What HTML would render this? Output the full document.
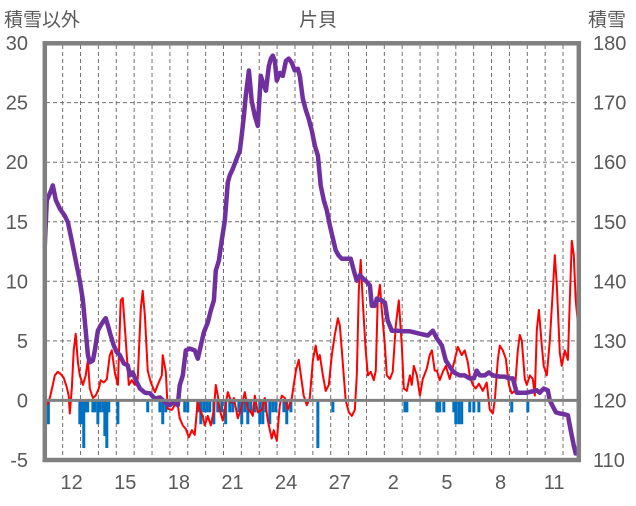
<!DOCTYPE html>
<html><head><meta charset="utf-8"><style>
body{margin:0;background:#fff;}
svg text{font-family:"Liberation Sans","Noto Sans CJK JP",sans-serif;fill:#595959;}
</style></head><body>
<svg id="chart" width="636" height="501" xmlns="http://www.w3.org/2000/svg">
<g id="grid"></g>
<g id="bars"></g>
<path id="red" fill="none" stroke="#ff0000" stroke-width="2" stroke-linejoin="round"/>
<path id="purple" fill="none" stroke="#7030a0" stroke-width="4.5" stroke-linejoin="round"/>
<line x1="45" x2="579" y1="400.4" y2="400.4" stroke="#808080" stroke-width="3"/>
<rect x="44.8" y="43.3" width="534" height="416.7" fill="none" stroke="#808080" stroke-width="4.5"/>
<g id="labels"></g>
<text x="4" y="26" font-size="19">積雪以外</text>
<text x="318" y="26" font-size="19" text-anchor="middle">片貝</text>
<text x="588" y="26" font-size="19">積雪</text>
</svg>
<script>
const leftTicks=[-5,0,5,10,15,20,25,30];
const rightTicks=[110,120,130,140,150,160,170,180];
const dayLabels=["12","15","18","21","24","27","2","5","8","11"];
const dayLabelPos=[1,4,7,10,13,16,19,22,25,28];
const snowT=[0,0.11,0.34,0.45,0.62,0.84,1.12,1.29,1.51,1.73,1.96,2.13,2.29,2.41,2.52,2.69,2.80,2.97,3.13,3.30,3.41,3.53,3.69,3.86,4.03,4.20,4.42,4.64,4.76,4.92,5.09,5.32,5.60,5.88,6.16,6.44,6.72,6.99,7.27,7.44,7.55,7.72,7.89,8.11,8.39,8.56,8.73,8.90,9.12,9.29,9.46,9.57,9.74,9.90,10.07,10.24,10.35,10.52,10.74,10.91,11.02,11.14,11.25,11.42,11.58,11.75,11.92,12.09,12.26,12.37,12.54,12.65,12.76,12.87,12.98,13.15,13.32,13.49,13.65,13.82,13.99,14.16,14.27,14.44,14.61,14.77,14.94,15.11,15.28,15.44,15.61,15.78,15.95,16.12,16.28,16.45,16.62,16.84,17.12,17.29,17.46,17.63,17.80,17.96,18.19,18.30,18.47,18.58,18.86,19.03,19.19,19.42,19.75,20.03,20.43,20.98,21.43,21.71,21.94,22.22,22.44,22.72,22.89,23.22,23.50,23.78,24.01,24.17,24.34,24.62,24.85,25.07,25.46,25.74,25.97,26.19,26.41,26.69,26.97,27.25,27.53,27.70,27.92,28.15,28.26,28.43,28.60,28.82,29.04,29.27,29.43,29.60,29.71,29.88];
const snowV=[146.0,153.6,155.2,156.1,153.6,152.2,151.0,149.9,146.8,143.5,140.1,136.8,131.7,127.6,126.4,126.7,128.4,131.7,132.6,133.4,133.8,132.6,130.9,129.2,128.1,127.6,126.2,125.9,124.2,124.7,123.4,122.0,121.3,121.2,120.3,120.5,119.7,119.2,119.8,119.2,122.5,124.2,128.4,128.7,128.4,127.0,129.2,131.4,133.1,135.1,136.8,141.8,143.5,146.8,150.2,156.6,157.8,158.9,160.6,161.9,164.5,167.8,171.2,175.4,170.3,167.8,166.1,174.5,172.9,172.0,176.2,177.4,177.9,177.0,173.7,175.0,174.5,177.0,177.4,176.7,175.4,175.7,174.5,170.7,168.7,167.3,165.3,162.8,161.1,156.1,153.6,151.9,149.4,147.2,145.2,144.3,143.8,143.8,143.8,141.8,140.1,141.0,140.5,140.1,139.3,135.9,135.9,137.1,136.8,136.4,133.4,131.7,131.7,131.6,131.6,131.2,130.9,131.7,130.4,129.2,126.7,125.4,124.7,124.2,124.2,123.7,123.7,125.0,124.2,124.2,124.7,124.2,124.0,124.0,123.7,123.7,121.3,121.3,121.3,121.5,121.7,121.3,122.0,121.7,120.0,119.0,118.0,117.8,117.7,117.5,115.0,112.4,111.1,111.1];
const redT=[0,0.17,0.28,0.45,0.56,0.73,0.90,1.06,1.23,1.34,1.40,1.51,1.62,1.73,1.85,1.96,2.13,2.29,2.41,2.52,2.69,2.85,3.02,3.13,3.30,3.47,3.64,3.75,3.92,4.09,4.25,4.36,4.53,4.70,4.87,5.04,5.20,5.37,5.48,5.60,5.76,5.93,6.16,6.32,6.55,6.60,6.77,6.88,7.11,7.27,7.44,7.55,7.72,7.89,8.06,8.23,8.39,8.56,8.67,8.84,8.95,9.12,9.29,9.46,9.57,9.68,9.79,9.96,10.07,10.24,10.46,10.58,10.80,10.97,11.19,11.36,11.53,11.64,11.75,11.92,12.14,12.31,12.48,12.70,12.81,12.98,13.15,13.26,13.43,13.60,13.82,14.05,14.21,14.33,14.49,14.66,14.83,15.00,15.16,15.28,15.39,15.56,15.72,15.89,16.06,16.23,16.40,16.51,16.62,16.84,17.01,17.18,17.35,17.46,17.57,17.68,17.79,17.96,18.08,18.24,18.41,18.52,18.63,18.75,18.86,19.03,19.14,19.31,19.47,19.64,19.81,19.98,20.09,20.26,20.43,20.54,20.65,20.82,20.99,21.15,21.38,21.54,21.66,21.82,21.94,22.10,22.27,22.44,22.66,22.94,23.11,23.33,23.50,23.67,23.78,23.95,24.12,24.29,24.51,24.73,24.90,25.07,25.18,25.35,25.46,25.63,25.80,25.97,26.13,26.30,26.47,26.58,26.69,26.86,26.97,27.14,27.31,27.42,27.53,27.65,27.81,27.92,28.09,28.26,28.43,28.54,28.65,28.82,28.93,29.10,29.27,29.38,29.49,29.60,29.71,29.82,29.88];
const redV=[-0.4,-0.3,0.2,1.3,2.1,2.4,2.2,1.9,1.1,0.4,-1.1,1.0,4.2,5.6,3.2,2.1,1.3,2.1,3.4,1.0,0.2,0.4,1.0,1.7,1.5,1.8,3.8,4.2,2.3,1.3,8.4,8.6,5.0,1.3,1.7,1.3,1.8,7.7,9.2,7.1,2.5,1.5,0.7,1.3,2.1,3.8,2.4,-0.7,-0.8,-0.4,-0.4,-1.5,-2.1,-2.4,-3.1,-2.5,-2.9,0,-0.8,-1.3,-2.1,-1.3,-2.1,-0.8,1.3,0.4,-0.8,-1.7,-0.8,0.7,-0.2,0.2,-1.5,-0.8,0.7,-0.7,-1.0,-1.3,0.4,-1.0,-0.8,0.2,-1.7,-3.2,-2.5,-3.4,-0.4,0.4,0.2,-0.8,0.2,2.5,3.4,2.1,0.4,-0.4,0.2,3.4,4.6,3.4,3.8,2.1,0.8,1.3,3.8,5.5,6.9,6.3,4.2,0,-1.0,-1.3,-0.8,2.1,9.2,11.8,8.4,4.2,2.1,2.4,1.7,2.5,8.4,9.7,7.6,4.6,2.1,1.8,2.4,6.3,8.4,4.6,1.0,0.8,2.1,1.3,2.9,2.1,0.4,1.8,2.7,3.8,4.2,2.5,2.5,1.7,2.4,2.9,1.8,3.4,4.5,3.8,4.2,3.2,2.1,1.3,1.0,1.4,0.8,1.5,-0.8,-1.1,0,3.4,4.6,4.2,3.5,1.3,0.6,0.8,4.2,5.5,5.0,1.8,1.3,2.1,1.8,0.4,5.9,7.6,4.6,2.9,2.1,5.0,9.2,12.2,9.7,4.0,2.9,4.2,3.4,8.4,13.4,12.2,8.4,6.7,5.0];
const barT=[0.1,0.2,1.96,2.07,2.18,2.29,2.4,2.69,2.80,2.97,3.08,3.25,3.36,3.47,3.58,4.09,5.76,6.44,6.6,6.77,7.83,8.0,8.56,8.73,8.9,9.07,9.23,9.46,9.68,9.9,10.12,10.35,10.52,10.86,11.02,11.19,11.36,11.53,11.75,12.03,12.2,12.37,12.59,12.76,12.93,13.38,13.54,13.77,15.28,16.12,20.15,20.26,21.94,22.1,22.33,22.89,23.0,23.17,23.33,23.78,24.01,24.29,26.13,27.03];
const barV=[-1,-2,-2,-2,-4,-1,-1,-1,-1,-2,-1,-1,-3,-4,-1,-2,-1,-1,-2,-1,-1,-1,-1,-2,-1,-1,-1,-2,-1,-1,-2,-1,-1,-1,-2,-1,-2,-1,-1,-2,-2,-1,-2,-1,-1,-1,-2,-1,-4,-1,-1,-1,-1,-1,-1,-1,-2,-2,-2,-1,-1,-1,-1,-1];

const X0=44.8,DX=17.87;
function xs(t){return X0+t*DX;}
function yl(v){return 400.4-v*11.91;}
function yr(v){return 400.4-(v-120)*5.955;}
const NS="http://www.w3.org/2000/svg";
function mk(tag,attrs,parent){const e=document.createElementNS(NS,tag);for(const k in attrs)e.setAttribute(k,attrs[k]);parent.appendChild(e);return e;}
const grid=document.getElementById('grid');
for(let d=1;d<30;d++){
  const l=mk('line',{x1:xs(d),x2:xs(d),y1:45,y2:458,stroke:'#707070','stroke-width':1,'stroke-dasharray':'4,3'},grid);
  
  
}
leftTicks.forEach(v=>{
  if(v>-5&&v<30&&v!==0){
    const l=mk('line',{x1:46,x2:578,y1:yl(v),y2:yl(v),stroke:'#707070','stroke-width':1,'stroke-dasharray':'4,3'},grid);
    
    
  }
});
const labels=document.getElementById('labels');
leftTicks.forEach(v=>{
  const t=mk('text',{x:28,y:yl(v)+7,'font-size':20,'text-anchor':'end'},labels);t.textContent=v;
  
  
});
rightTicks.forEach(v=>{
  const t=mk('text',{x:593,y:yr(v)+7,'font-size':20},labels);t.textContent=v;
  
  
});
dayLabels.forEach((s,i)=>{
  const t=mk('text',{x:xs(dayLabelPos[i])+9,y:489,'font-size':20,'text-anchor':'middle'},labels);t.textContent=s;
  
  
});
const bars=document.getElementById('bars');
barT.forEach((t,i)=>{
  const y0=yl(0),y1=yl(barV[i]);
  const r=mk('rect',{x:xs(t)-1.5,y:y0,width:3,height:y1-y0,fill:'#0070c0'},bars);
  
  
});
document.getElementById('red').setAttribute('d',redT.map((t,i)=>(i?'L':'M')+xs(t).toFixed(1)+','+yl(redV[i]).toFixed(1)).join(''));
document.getElementById('purple').setAttribute('d',snowT.map((t,i)=>(i?'L':'M')+xs(t).toFixed(1)+','+yr(snowV[i]).toFixed(1)).join(''));
</script>
</body></html>
